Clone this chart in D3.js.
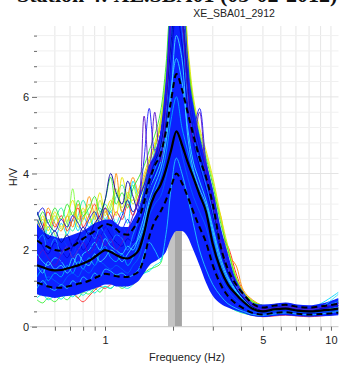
<!DOCTYPE html>
<html><head><meta charset="utf-8">
<script src="https://cdn.jsdelivr.net/npm/d3@7"></script>
<style>html,body{margin:0;padding:0;background:#fff;}svg{display:block;}</style>
</head><body>
<svg id="c" width="340" height="369"></svg>
<script>
// ---------- data ----------
const freqs = [0.5,0.53,0.56,0.6,0.64,0.68,0.72,0.76,0.8,0.85,0.9,0.95,1.0,1.06,1.12,1.19,1.26,1.33,1.41,1.49,1.57,1.66,1.76,1.86,1.96,2.07,2.19,2.32,2.46,2.62,2.8,3.0,3.25,3.5,3.8,4.1,4.5,5.0,5.6,6.3,7.1,8.0,9.0,10.8];

const median = [1.6,1.55,1.5,1.47,1.48,1.52,1.56,1.6,1.65,1.72,1.82,1.92,2.0,1.95,1.87,1.8,1.78,1.85,2.0,2.45,3.05,3.45,3.7,4.1,4.6,5.1,4.75,4.3,3.9,3.45,3.0,2.15,1.5,1.1,0.85,0.65,0.47,0.4,0.45,0.47,0.42,0.4,0.42,0.47];
const stdUpper = [2.25,2.15,2.08,2.0,1.98,2.02,2.1,2.2,2.3,2.4,2.5,2.6,2.68,2.65,2.55,2.42,2.4,2.55,2.8,3.25,3.8,4.2,4.5,5.1,5.9,6.6,6.2,5.6,5.0,4.4,3.9,3.2,2.1,1.5,1.1,0.85,0.6,0.5,0.55,0.57,0.52,0.5,0.53,0.6];
const stdLower = [1.15,1.1,1.05,1.02,1.02,1.05,1.08,1.12,1.15,1.2,1.27,1.33,1.38,1.36,1.32,1.3,1.3,1.35,1.45,1.8,2.35,2.75,3.0,3.3,3.65,4.0,3.75,3.4,3.0,2.6,2.2,1.6,1.1,0.8,0.6,0.48,0.36,0.32,0.36,0.38,0.34,0.32,0.33,0.37];

// envelope of the dense bundle of window curves
const bundleTop = [2.7,2.5,2.4,2.35,2.3,2.35,2.4,2.45,2.5,2.6,2.7,2.75,2.8,2.8,2.7,2.6,2.6,2.8,3.1,3.6,4.2,4.5,5.1,6.5,8.5,8.5,8.2,6.8,5.8,5.0,4.3,3.6,2.6,1.9,1.2,0.82,0.62,0.58,0.6,0.63,0.58,0.56,0.6,0.75];
const bundleBottom = [0.85,0.8,0.78,0.75,0.78,0.8,0.82,0.85,0.9,0.95,1.0,1.05,1.1,1.1,1.05,1.05,1.05,1.1,1.2,1.4,1.6,1.7,1.8,1.95,2.3,2.5,2.5,2.35,2.0,1.6,1.15,0.8,0.6,0.5,0.42,0.36,0.28,0.25,0.28,0.3,0.27,0.26,0.27,0.3];

// individual window curves (outer ones)
const winGreen1  = [2.6,3.0,2.7,3.1,2.8,3.2,2.9,3.3,2.9,3.1,3.4,3.0,3.3,3.9,3.2,3.5,3.1,3.6,3.9, 4.2,4.6,5.0,5.6,6.8,8.5,9,8.8,7.0,5.8,5.0,4.4, 3.7,2.7,2.0,1.25,0.88,0.65,0.55,0.55,0.6,0.55,0.52,0.55,0.65];
const winYellow  = [2.3,2.9,2.5,3.0,2.6,2.9,3.3,2.8,3.1,2.7,3.0,3.5,3.0,3.3,2.9,3.9,3.4,3.3,3.6, 4.0,4.4,4.8,5.4,6.5,8.2,9,9,7.4,6.0,5.2,4.6, 3.9,2.9,2.1,1.3,0.9,0.65,0.55,0.5,0.55,0.5,0.48,0.5,0.6];
const winOrange  = [2.8,2.5,3.1,2.7,2.5,2.9,2.6,3.2,2.8,3.4,2.9,2.6,3.0,2.8,4.0,3.0,3.4,3.9,3.5, 3.9,4.3,4.7,5.2,6.2,7.9,9,9,7.2,5.8,4.9,4.3, 3.5,2.9,1.9,1.6,0.95,0.7,0.55,0.5,0.55,0.5,0.45,0.48,0.55];
const winRed     = [2.2,2.6,3.0,2.6,2.9,2.5,2.8,3.1,2.6,2.9,3.2,2.8,3.1,2.7,3.0,2.8,3.2,2.9,3.4, 3.7,4.1,4.5,5.0,6.0,7.6,9,9,7.0,5.5,4.6,4.0, 3.3,2.4,2.1,1.4,0.9,0.62,0.5,0.45,0.5,0.45,0.42,0.45,0.5];
const winCyan    = [2.4,2.2,2.6,2.3,2.7,2.4,2.8,2.5,2.9,2.6,2.9,3.1,2.8,3.0,2.7,3.0,2.7,3.8,3.4, 3.8,4.2,4.5,5.0,6.0,7.5,8.8,8.0,6.4,5.2,4.5,3.9, 3.2,2.3,1.6,1.15,0.85,0.62,0.5,0.52,0.56,0.52,0.5,0.6,0.9];
const winGreen2  = [1.9,2.3,2.8,2.4,2.1,2.6,3.6,2.7,3.0,2.9,2.6,3.0,2.7,3.1,3.5,3.0,3.3,3.7,3.2, 3.6,4.0,4.4,5.0,6.2,8,9,8.6,6.8,5.5,4.7,4.1, 3.5,2.5,1.8,1.25,0.9,0.68,0.55,0.52,0.58,0.52,0.5,0.55,0.7];
const winGreen3  = [3.0,2.7,2.4,2.8,3.1,2.7,2.5,2.9,3.3,2.9,2.6,2.8,3.2,3.0,3.4,3.7,3.3,3.0,3.3, 3.7,4.1,4.6,5.3,6.4,8.2,9,8.4,6.6,5.4,4.6,4.0, 3.4,2.4,1.75,1.2,0.86,0.64,0.52,0.5,0.56,0.5,0.48,0.52,0.62];
const winLime    = [2.5,2.8,2.6,2.9,2.55,2.75,3.0,2.6,2.8,3.2,2.8,3.3,2.9,3.2,3.6,3.1,3.5,3.2,3.5, 3.8,4.3,4.7,5.3,6.6,8.4,9,8.9,7.2,5.9,5.1,4.5, 3.8,2.8,2.05,1.3,0.9,0.66,0.56,0.54,0.6,0.54,0.5,0.54,0.66];
const winGreenLo = [0.7,0.62,0.75,0.65,0.8,0.7,0.85,0.75,0.9,0.85,1.0,0.9,1.05,1.0,1.1,1.0,1.1,1.2,1.3, 1.4,1.5,1.55,1.65,2.6,3.3,3.6,3.3,2.8,2.3,1.9,1.5, 1.1,0.75,0.55,0.42,0.35,0.3,0.27,0.3,0.32,0.3,0.28,0.3,0.35];
const winRedLo   = [1.0,0.9,1.1,0.95,0.85,1.0,0.9,0.75,0.65,0.8,0.95,1.05,1.0,1.1,1.15,1.05,1.2,1.1,1.3, 1.6,1.9,2.1,2.4,3.0,3.8,4.2,3.9,3.3,2.7,2.2,1.8, 1.3,0.9,0.6,0.45,0.38,0.3,0.26,0.28,0.3,0.28,0.26,0.28,0.33];
const winCyanLo  = [0.75,0.85,0.7,0.8,0.72,0.85,0.78,0.9,0.82,0.95,0.88,1.0,1.05,1.0,1.1,1.05,1.0,1.1,1.25, 1.4,1.45,1.6,1.7,2.7,3.4,3.7,3.5,3.0,2.4,1.95,1.6, 1.2,0.8,0.55,0.42,0.36,0.3,0.28,0.3,0.34,0.3,0.3,0.32,0.4];

// inner window curves
const winIn1 = [1.3,1.5,1.2,1.4,1.3,1.6,1.4,1.7,1.5,1.8,1.6,1.9,2.1,1.8,1.7,1.9,1.6,1.8,2.2, 2.6,3.2,3.5,3.9,4.5,5.4,6.0,5.2,4.6,4.0,3.5,3.1, 2.4,1.6,1.2,0.9,0.66,0.48,0.4,0.43,0.46,0.43,0.4,0.42,0.48];
const winIn2 = [1.9,1.7,1.6,1.8,1.7,1.5,1.8,1.6,1.9,2.0,2.2,2.0,2.3,2.1,2.0,1.9,2.1,2.0,2.4, 2.9,3.6,3.9,4.3,5.0,6.2,7.0,6.4,5.2,4.3,3.8,3.3, 2.6,1.8,1.3,0.95,0.7,0.5,0.42,0.46,0.5,0.46,0.43,0.5,0.85];
const winIn3 = [1.2,1.1,1.3,1.2,1.1,1.3,1.4,1.3,1.5,1.4,1.6,1.7,1.6,1.5,1.6,1.5,1.4,1.6,1.8, 2.3,2.9,3.2,3.4,3.9,4.6,5.1,4.5,3.9,3.4,3.0,2.6, 1.9,1.3,0.95,0.7,0.55,0.4,0.35,0.38,0.4,0.38,0.36,0.38,0.42];
const winIn4 = [2.4,2.1,1.9,2.2,2.0,1.8,2.1,2.3,2.0,2.2,2.5,2.3,2.6,2.4,2.2,2.1,2.3,2.2,2.6, 3.0,3.6,4.0,4.4,5.4,7.0,8.2,7.4,5.8,4.8,4.2,3.6, 2.9,2.0,1.4,1.0,0.75,0.52,0.43,0.46,0.5,0.46,0.43,0.48,0.62];
const winIn5 = [1.0,1.2,1.05,0.95,1.1,1.0,1.2,1.1,1.3,1.2,1.4,1.3,1.5,1.45,1.35,1.4,1.3,1.35,1.5, 1.9,2.2,2.0,1.75,2.4,3.6,4.4,4.0,3.4,2.7,2.0,1.5, 1.1,0.8,0.6,0.48,0.4,0.32,0.3,0.33,0.36,0.33,0.31,0.33,0.4];
const winIn6 = [2.8,2.5,2.2,2.0,2.3,2.1,1.9,2.2,2.4,2.2,2.0,2.3,2.5,2.7,2.4,2.6,2.4,2.7,3.0, 3.5,4.0,4.2,4.8,5.8,7.8,8.8,8.2,6.4,5.3,4.6,4.0, 3.3,2.3,1.6,1.1,0.8,0.55,0.47,0.5,0.55,0.5,0.47,0.52,0.7];
const winIn7 = [1.6,1.4,1.7,1.5,1.6,1.4,1.6,1.9,1.7,1.6,1.9,1.7,1.8,2.0,1.9,1.7,1.9,2.1,2.3, 2.7,3.3,3.7,4.1,4.8,6.0,7.6,7.0,5.0,4.1,3.6,3.2, 2.5,1.7,1.25,0.92,0.68,0.49,0.41,0.44,0.48,0.44,0.41,0.44,0.5];
const winIn8 = [2.2,2.4,2.0,2.3,1.9,2.1,1.8,2.0,2.2,2.5,2.3,2.6,2.4,2.2,2.4,2.3,2.0,2.4,2.8, 3.2,3.8,4.1,4.6,5.6,7.4,8.8,7.8,6.0,5.0,4.3,3.7, 3.0,2.1,1.5,1.05,0.78,0.54,0.45,0.48,0.52,0.48,0.45,0.5,0.66];
const winLobe1 = [2.0,1.8,2.2,1.9,1.7,2.0,2.3,2.0,1.8,2.1,2.4,2.2,2.6,2.3,2.1,2.5,2.8,2.5,3.2, 4.4,5.7,4.6,5.0,6.2,8,9,8.6,7.0,5.2,5.7,4.3, 3.5,2.4,1.7,1.2,0.88,0.6,0.45,0.45,0.5,0.45,0.42,0.45,0.55];
const winLobe2 = [1.7,2.0,1.8,1.6,1.9,2.1,1.8,2.0,2.2,1.9,2.1,2.4,2.1,2.3,2.0,2.2,2.5,2.9,3.3, 5.5,4.0,5.6,4.3,5.8,8,9,8,6.2,4.8,5.6,4.0, 3.2,2.2,1.55,1.1,0.8,0.55,0.45,0.48,0.52,0.48,0.45,0.5,0.62];
const winNavy = [3.0,2.6,2.3,2.5,2.2,2.4,2.1,2.3,2.6,2.4,2.7,2.9,3.3,4.0,3.5,3.2,3.8,3.4,3.0, 3.4,3.9,4.3,4.7,5.8,7.4,8.6,8.0,6.3,5.1,4.5,3.9, 3.1,2.1,1.45,1.0,0.75,0.52,0.42,0.45,0.5,0.45,0.42,0.46,0.55];
const winBlueHi = [2.9,3.1,2.7,2.5,2.8,2.6,2.9,2.7,2.5,2.8,3.0,2.7,3.1,2.9,2.6,2.9,3.3,3.0,3.3, 3.7,4.2,4.4,5.0,6.0,8.0,9,8.4,6.6,5.4,4.7,4.1, 3.4,2.4,1.7,1.15,0.84,0.6,0.48,0.5,0.55,0.5,0.47,0.5,0.6];

const outerCurves = [
  {v: winGreenLo, c: "#3cf03c"}, {v: winRedLo, c: "#ff3030"}, {v: winCyanLo, c: "#00f0e0"},
  {v: winGreen3, c: "#20f0a0"}, {v: winGreen2, c: "#80ff40"}, {v: winCyan, c: "#00d8ff"},
  {v: winRed, c: "#ff2020"}, {v: winOrange, c: "#ff8c00"}, {v: winYellow, c: "#e6e600"},
  {v: winLime, c: "#b8f020"}, {v: winGreen1, c: "#30e830"}
];
const innerCurves = [
  {v: winIn1, c: "#00b0ff"}, {v: winIn2, c: "#30e0ff"}, {v: winIn3, c: "#0060ff"},
  {v: winIn5, c: "#20c8ff"}, {v: winIn7, c: "#40d8ff"}, {v: winIn4, c: "#0000d0"},
  {v: winIn8, c: "#1890ff"}, {v: winIn6, c: "#0a40ff"}, {v: winBlueHi, c: "#1010e0"},
  {v: winNavy, c: "#0000a0"}, {v: winLobe1, c: "#1a1aff"}, {v: winLobe2, c: "#5a10c8"}
];

const peakBand = [1.90, 2.04, 2.19];
const gridFreqs = [0.6,0.7,0.8,0.9,1,2,3,4,5,6,7,8,9,10];
const xTickLabels = {1:"1", 5:"5", 10:"10"};
const yMajor = [0,2,4,6];
const yMinor = [0.4,0.8,1.2,1.6,2.4,2.8,3.2,3.6,4.4,4.8,5.2,5.6,6.4,6.8,7.2,7.6];

// ---------- drawing ----------
const svg = d3.select("#c");
const x = d3.scaleLog().domain([0.5, 10.8]).range([37, 338.5]);
const y = d3.scaleLinear().domain([0, 7.85]).range([326.7, 26]);
const [x0, x1] = x.range(), [yb, yt] = y.range();

svg.append("rect").attr("width",340).attr("height",369).attr("fill","#fff");
svg.append("defs").append("clipPath").attr("id","pc").append("rect")
  .attr("x",x0).attr("y",yt).attr("width",x1-x0).attr("height",yb-yt);

// heading, cut off by the top edge as in the original figure
svg.append("text").attr("x",17).attr("y",2.3)
  .attr("font-family","Liberation Serif").attr("font-weight","bold").attr("font-size",22)
  .attr("fill","#111").text("Station 4: XE.SBA01 (05-02-2012)");

// title
svg.append("text").attr("x",234).attr("y",16.5).attr("text-anchor","middle")
  .attr("font-family","Liberation Sans").attr("font-size",10.5).attr("fill","#222")
  .text("XE_SBA01_2912");

const g = svg.append("g");
g.selectAll(".vg").data(gridFreqs).join("line")
  .attr("x1",d=>x(d)).attr("x2",d=>x(d)).attr("y1",yt).attr("y2",yb)
  .attr("stroke","#e6e6e6").attr("stroke-width",1);
g.selectAll(".hg").data(yMinor).join("line")
  .attr("x1",x0).attr("x2",x1).attr("y1",d=>y(d)).attr("y2",d=>y(d))
  .attr("stroke","#f0f0f0").attr("stroke-width",1);
g.selectAll(".hm").data(yMajor.slice(1)).join("line")
  .attr("x1",x0).attr("x2",x1).attr("y1",d=>y(d)).attr("y2",d=>y(d))
  .attr("stroke","#e4e4e4").attr("stroke-width",1);

const plot = svg.append("g").attr("clip-path","url(#pc)");
plot.append("rect").attr("x",x(peakBand[0])).attr("width",x(peakBand[1])-x(peakBand[0]))
  .attr("y",yt).attr("height",yb-yt).attr("fill","#c4c4c4");
plot.append("rect").attr("x",x(peakBand[1])).attr("width",x(peakBand[2])-x(peakBand[1]))
  .attr("y",yt).attr("height",yb-yt).attr("fill","#a4a4a4");

const line = d3.line().x((d,i)=>x(freqs[i])).y(d=>y(d)).curve(d3.curveCatmullRom.alpha(0.5));
const area = d3.area().x((d,i)=>x(freqs[i])).y0((d,i)=>y(bundleBottom[i])).y1(d=>y(d)).curve(d3.curveMonotoneX);

plot.selectAll(".oc").data(outerCurves).join("path")
  .attr("d",d=>line(d.v)).attr("fill","none").attr("stroke",d=>d.c).attr("stroke-width",0.9);
plot.append("path").attr("d",area(bundleTop)).attr("fill","#0c22ff");
plot.selectAll(".ic").data(innerCurves).join("path")
  .attr("d",d=>line(d.v)).attr("fill","none").attr("stroke",d=>d.c).attr("stroke-width",0.9);

const statLine = d3.line().x((d,i)=>x(freqs[i])).y(d=>y(d)).curve(d3.curveMonotoneX);
[stdUpper, stdLower].forEach(s=>{
  plot.append("path").attr("d",statLine(s)).attr("fill","none").attr("stroke","#000")
    .attr("stroke-width",2).attr("stroke-dasharray","6,4");
});
plot.append("path").attr("d",statLine(median)).attr("fill","none").attr("stroke","#000")
  .attr("stroke-width",2.2);

svg.append("line").attr("x1",30).attr("x2",x1).attr("y1",yb).attr("y2",yb)
  .attr("stroke","#c8c8c8").attr("stroke-width",1);

const font = "Liberation Sans";
const ya = svg.append("g").attr("transform",`translate(${x0},0)`)
  .call(d3.axisLeft(y).tickValues(yMajor).tickSize(5).tickPadding(3));
const ym = svg.append("g").attr("transform",`translate(${x0},0)`)
  .call(d3.axisLeft(y).tickValues(yMinor).tickSize(3).tickFormat(""));
const xa = svg.append("g").attr("transform",`translate(0,${yb})`)
  .call(d3.axisBottom(x).tickValues(gridFreqs).tickSize(4).tickPadding(6).tickFormat(d=>xTickLabels[d] || ""));
[ya, ym, xa].forEach(a=>{
  a.select(".domain").remove();
  a.selectAll(".tick line").attr("stroke","#666");
  a.selectAll("text").attr("font-family",font).attr("font-size",11).attr("fill","#222");
});

svg.append("text").attr("x",187).attr("y",361).attr("text-anchor","middle")
  .attr("font-family",font).attr("font-size",11).attr("fill","#222").text("Frequency (Hz)");
svg.append("text").attr("transform","translate(17,177) rotate(-90)").attr("text-anchor","middle")
  .attr("font-family",font).attr("font-size",11).attr("fill","#222").text("H/V");
</script>
</body></html>
